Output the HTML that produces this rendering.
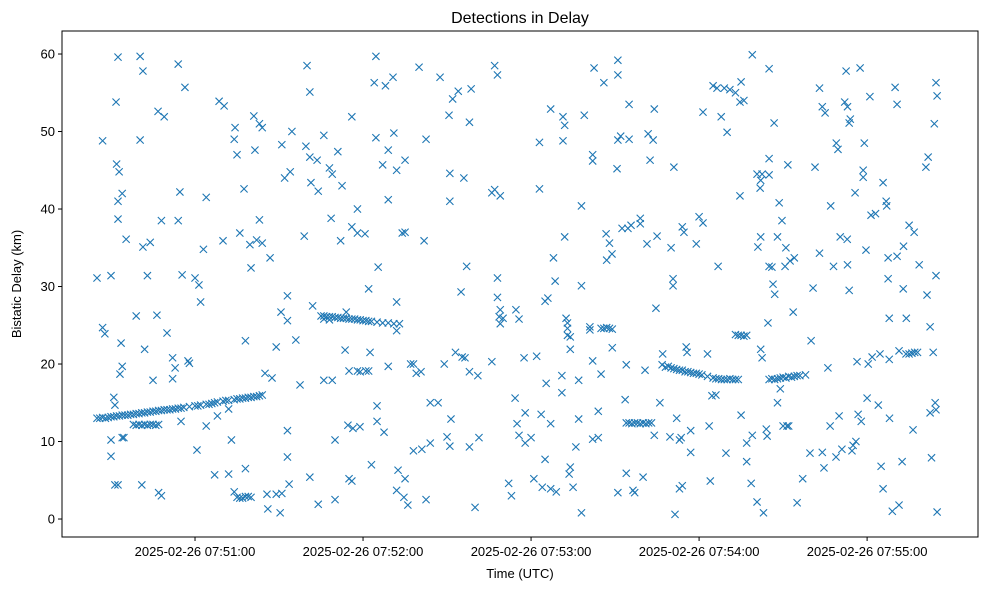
<!DOCTYPE html>
<html>
<head>
<meta charset="utf-8">
<style>
  html,body{margin:0;padding:0;background:#fff;}
  svg{display:block;font-family:"Liberation Sans","DejaVu Sans",sans-serif;}
</style>
</head>
<body>
<svg id="chart" width="989" height="590" viewBox="0 0 989 590" xmlns="http://www.w3.org/2000/svg">
  <rect x="0" y="0" width="989" height="590" fill="#fff"/>
  <text x="520" y="23" text-anchor="middle" font-size="16" fill="#000">Detections in Delay</text>
  <g id="marks"></g>
  <g id="yaxis"></g>
  <g id="xaxis"></g>
  <rect x="62" y="31" width="916" height="506" fill="none" stroke="#000" stroke-width="1"/>
  <text x="520" y="578" text-anchor="middle" font-size="13" fill="#000">Time (UTC)</text>
  <text x="21" y="284" text-anchor="middle" font-size="13" fill="#000" transform="rotate(-90 21 284)">Bistatic Delay (km)</text>
</svg>
<script>
// seconds after 2025-02-26 07:50:00 UTC, bistatic delay in km
const xTickSeconds = [60, 120, 180, 240, 300];
const xTickLabels = ["2025-02-26 07:51:00","2025-02-26 07:52:00","2025-02-26 07:53:00","2025-02-26 07:54:00","2025-02-26 07:55:00"];
const yTickValues = [0, 10, 20, 30, 40, 50, 60];
const xDomain = [12.5, 339.6];
const yDomain = [-2.32, 62.97];

const trackA = [[25,13.0],[26,13.0],[27,13.1],[28,13.0],[29,13.1],[30,13.2],[31,13.2],[32,13.3],[33,13.3],[34,13.4],[35,13.4],[36,13.4],[37,13.5],[38,13.5],[39,13.6],[40,13.6],[41,13.7],[42,13.7],[43,13.8],[44,13.8],[45,13.9],[46,13.9],[47,14.0],[48,14.0],[49,14.1],[50,14.1],[51,14.1],[52,14.2],[53,14.2],[54,14.3],[55,14.3],[56,14.4],[58,14.5],[60,14.6],[61,14.6],[62,14.7],[64,14.8],[65,14.8],[66,14.9],[67,15.0],[68,15.1],[70,15.2],[71,15.3],[72,15.3],[74,15.4],[75,15.5],[76,15.5],[77,15.6],[78,15.6],[79,15.7],[80,15.7],[81,15.8],[82,15.8],[83,15.9],[84,16.0]];
const trackLow = [[38,12.2],[39,12.1],[40,12.2],[41,12.1],[42,12.2],[43,12.1],[44,12.2],[45,12.2],[46,12.1],[47,12.2],[75,2.8],[76,2.7],[77,2.7],[78,2.9],[79,2.9],[80,2.8],[89,3.2],[91,3.3]];
const trackB = [[105,26.2],[106,26.2],[107,26.1],[108,26.1],[109,26.1],[110,26.0],[111,26.0],[112,25.9],[113,25.9],[114,25.9],[115,25.8],[116,25.8],[117,25.8],[118,25.7],[119,25.7],[120,25.6],[121,25.6],[122,25.5],[123,25.5],[125,25.4],[127,25.3],[129,25.3],[131,25.2],[133,25.2],[106,25.8],[108,25.7]];
const trackC = [[205,24.6],[206,24.6],[207,24.7],[208,24.6],[209,24.5],[214,12.4],[215,12.4],[216,12.3],[217,12.4],[218,12.4],[219,12.3],[220,12.4],[221,12.3],[222,12.4],[223,12.4]];
const trackD = [[228,19.6],[229,19.7],[230,19.5],[231,19.4],[232,19.3],[233,19.2],[234,19.2],[235,19.0],[236,19.0],[237,18.9],[238,18.8],[239,18.8],[240,18.7],[241,18.6],[243,18.4],[245,18.2],[246,18.1],[247,18.1],[248,18.0],[249,18.0],[250,18.0],[251,18.1],[252,18.0],[253,18.0],[254,18.0],[265,18.0],[266,18.1],[267,18.0],[268,18.1],[269,18.2],[270,18.3],[271,18.2],[272,18.4],[273,18.3],[274,18.4],[275,18.5],[276,18.5],[278,18.6]];
const trackE = [[253,23.8],[254,23.7],[255,23.7],[256,23.6],[257,23.7],[315,21.3],[316,21.4],[317,21.5],[318,21.5]];
const scatterEarly = [[25,31.1],[27,48.8],[27,24.7],[27.8,23.9],[30,31.4],[30,10.2],[30,8.1],[31,15.7],[31.4,14.7],[31.4,4.4],[32.5,4.4],[31.8,53.8],[32.5,59.6],[32,45.8],[32.9,44.8],[32.5,41],[32.5,38.7],[33.2,18.7],[34,19.7],[34,10.5],[33.6,22.7],[34,42],[35.4,36.1],[34.6,10.5],[39,26.2],[40.4,59.7],[41.4,57.8],[40.4,48.9],[41.4,35.1],[41,4.4],[42,21.9],[43,31.4],[44,35.7],[45,17.9],[46.4,26.3],[46.8,52.6],[47,3.4],[49,51.9],[48,38.5],[50,24],[48,3],[52,20.8],[52.9,19.5],[52,18.1],[54,58.7],[54.6,42.2],[54,38.5],[55,12.6],[55.4,31.5],[56.4,55.7],[57.5,20.4],[58,20.1],[60,31.1],[60.7,8.9],[61.4,30.2],[62,28],[63,34.8],[64,41.5],[64,12],[67,5.7],[68,13.3],[68.6,53.9],[70,35.9],[70.4,53.3],[72,5.8],[72,14.2],[73,10.2],[74,49],[74.3,50.5],[75,47],[74,3.5],[76,36.9],[77.5,42.6],[78,23],[78,6.5],[79.6,35.4],[80,32.4],[81,52],[81.4,47.6],[82,36],[83,51],[83,38.6],[84,50.5],[84,35.6],[85,18.8],[85.7,3.2],[86,1.3],[86.8,33.7],[87.5,18.2],[89,22.2],[90.7,26.7],[90.4,0.8],[91,48.3],[92,44],[93,28.8],[93,25.6],[93,11.4],[93,8],[93.6,4.5],[94,44.8],[94.6,50],[96,23.1],[97.5,17.3],[99,36.5]];
const scatterMid = [[99.6,48.1],[100,58.5],[101,55.1],[101,46.7],[101.4,43.4],[101,5.4],[102,27.5],[103.6,46.3],[104,42.3],[104,1.9],[106,49.5],[106,17.9],[108,45.3],[108.6,38.8],[109,17.9],[109,44.5],[110,10.2],[110,2.5],[111,47.4],[112,35.9],[112.5,43],[113.6,21.8],[114,26.7],[114.6,12.1],[115,19.1],[115,5.2],[116,51.9],[116,4.9],[116,37.7],[116.4,11.7],[118,19.1],[118,40],[118,36.9],[118.9,11.9],[119,19],[120.7,36.8],[121,19.1],[122,29.7],[122.5,21.5],[122,19.1],[123,7],[124,56.3],[124.6,59.7],[124.6,49.2],[125,14.6],[125,12.6],[125.4,32.5],[127,45.7],[127.5,11.2],[128,55.9],[129,41.2],[129,47.6],[129,19.7],[130.7,57],[131,49.8],[132,24.3],[132,28],[132,45],[132,3.7],[132.5,6.3],[134,36.9],[134.6,2.8],[135,37],[135,5.2],[135,46.3],[136,1.8],[137,20],[138,20],[138,8.8],[139,18.8],[140,58.3],[140.7,19],[141,9],[141.8,35.9],[142.5,49],[142.5,2.5],[144,15],[144,9.8],[146.8,15],[147.5,57],[149,20],[150.7,52.1],[151,44.6],[150,10.6],[151,41],[151.4,12.9],[151,9.4],[152,54.2],[153,21.5],[154,55.2],[155,29.3],[155.4,20.9],[156,44],[157,32.6],[156.4,20.8],[158,51.2],[158,19],[158,9.3],[158.6,55.5],[161,18.5],[161.4,10.5],[160,1.5],[167,58.5],[168,57.3],[166,20.3],[166,42.1],[167,42.5],[168,28.6],[168,31.1],[169,27],[168.6,26.1],[169,25.2],[170,25.9],[169,41.7]];
const scatterLate = [[172,4.6],[173,3],[174.6,27],[175.7,25.8],[174.3,15.6],[175,12.3],[175.7,10.8],[177.9,9.8],[177.9,13.7],[177.5,20.8],[180,10.5],[181,5.2],[182,21],[183,48.6],[183,42.6],[183.6,13.5],[184,4.1],[185,7.7],[185.4,17.5],[185,28.1],[186,28.5],[187,52.9],[187,3.9],[187,12.3],[188,33.7],[188.6,30.7],[189,3.5],[191,18.5],[191,16.3],[191.4,51.9],[191.4,48.8],[192,50.8],[192,36.4],[192.5,25.9],[193,25.3],[193,23.7],[194,23.5],[193,24.6],[194,21.9],[193.6,5.8],[194,6.7],[195,4.1],[196,9.3],[197,12.9],[197,17.9],[198,30.1],[198,0.8],[198,40.4],[199,52.1],[202,20.4],[201,24.4],[201,24.8],[202,10.3],[202,47],[202,46.2],[202.5,58.2],[204,13.9],[204,10.5],[205,18.7],[206,56.3],[206.8,36.8],[207,33.4],[208,35.6],[208.9,34.2],[209,22.1],[211,59.2],[211,57.3],[210.7,45.2],[211,48.9],[211,3.4],[212,49.4],[212.5,37.5],[213.6,15.4],[214,19.9],[214,5.9],[214.6,37.5],[215,53.5],[215,49],[215.7,37.9],[216.4,3.7],[217,3.4],[219,38.8],[219,38.1],[220,5.4],[220.7,19.2],[221.4,35.5],[221.8,49.7],[222.5,46.3],[223.6,48.9],[224,52.9],[224,10.8],[224.6,27.2],[225,36.5],[226,15],[227,21.3],[226.8,19.9],[229.6,10.6],[230,35],[230.7,31],[231,45.4],[230.7,30.1],[231.4,0.6],[232,13],[233,3.9],[233,10.2],[233.6,10.5],[234,4.3],[234.6,37],[234,37.7],[235.4,22.2],[235.7,21.5],[237,8.6],[237,11.4],[239,35.5],[240,39],[241.4,52.5],[241.4,38.2],[243,21.3],[243.6,12],[244,4.9],[244.6,15.9],[245,55.9],[246,16],[246.4,55.6],[246.8,32.6],[247.9,51.9],[249,55.6],[249.6,8.5],[250,49.9],[251,55.4],[253,55],[254.6,53.8],[254.6,41.7],[255,56.4],[255,13.4],[256,54],[257,7.4],[257,9.8],[258.6,4.6],[259,10.8],[259,59.9],[260.7,2.2],[260.7,44.5],[261,35.1],[261.8,42.7],[262,43.7],[262.5,44.5],[262,36.4],[262,21.9],[262.5,20.8],[263,0.8],[264,11.6],[264.3,10.7],[264.6,25.3],[265,58.1],[265,46.5],[265,44.4],[265,32.6],[266,32.5],[266.4,30.3],[266.8,51.1],[267,29],[268,15],[268,36.4],[268.6,40.8],[269,16.8],[269.6,38.5],[270,12],[270.7,32.6],[271,35],[271.4,12],[272,12],[271.7,45.7],[272.5,33.3],[273.6,26.7],[274,33.7],[275,2.1],[277,5.2],[279.6,8.5],[280,23],[280.7,29.8],[281.4,45.4],[283,55.6],[283,34.3],[284,53.2],[284,8.6],[284.6,6.6],[285,52.4],[286,19.5],[286.8,12],[287,40.4],[288,32.6],[288.9,8],[289,48.5],[289.6,47.7],[290,13.3],[290.4,36.4],[291,9],[292,53.8],[292.5,57.8],[292.9,36.1],[293,32.8],[293.6,29.5],[293,53.2],[294,51.6],[293.6,51.1],[294.6,8.8],[295,9.5],[295.7,42.1],[296,10],[296.4,20.3],[296.8,13.5],[297.5,58.2],[297.9,12.6],[298.6,45],[298.6,44.1],[299,48.5],[299.6,34.7],[300,15.6],[300.4,20],[301,54.5],[301.4,39.2],[301.8,20.9],[303,39.4],[304,14.7],[304.6,21.3],[305,6.8],[305.7,43.4],[305.7,3.9],[306.8,41],[307,40.4],[307.5,33.7],[307.5,31],[307.9,25.9],[307.9,20.6],[308,13],[309,1],[310,55.7],[310.7,53.5],[310.7,33.9],[311.4,21.7],[311.4,1.8],[312.5,7.4],[312.9,29.7],[313,35.2],[313.9,21.3],[314,25.9],[315,37.9],[316.4,11.5],[316.8,37],[318.6,32.8],[321,45.4],[321.4,28.9],[321.8,46.7],[322.5,13.7],[322.5,24.8],[323,7.9],[323.6,21.5],[324,51],[324.3,15],[324.6,14.1],[324.6,31.4],[324.6,56.3],[325,54.6],[325,0.9]];

const PL = 62, PR = 978, PT = 31, PB = 537;
function xScale(t){ return PL + (t - xDomain[0]) / (xDomain[1] - xDomain[0]) * (PR - PL); }
function yScale(v){ return PB - (v - yDomain[0]) / (yDomain[1] - yDomain[0]) * (PB - PT); }

const NS = "http://www.w3.org/2000/svg";
const marks = document.getElementById("marks");
const allSets = [trackA, trackLow, trackB, trackC, trackD, trackE, scatterEarly, scatterMid, scatterLate];
const s = 3.6;
allSets.forEach(function(set){
  set.forEach(function(p){
    const cx = xScale(p[0]), cy = yScale(p[1]);
    const path = document.createElementNS(NS, "path");
    path.setAttribute("d", "M"+(cx-s)+" "+(cy-s)+"L"+(cx+s)+" "+(cy+s)+"M"+(cx-s)+" "+(cy+s)+"L"+(cx+s)+" "+(cy-s));
    path.setAttribute("stroke", "#1f77b4");
    path.setAttribute("stroke-width", "1.1");
    path.setAttribute("fill", "none");
    
    
    marks.appendChild(path);
  });
});

const yaxis = document.getElementById("yaxis");
yTickValues.forEach(function(v){
  const y = yScale(v);
  const tick = document.createElementNS(NS, "line");
  tick.setAttribute("x1", PL - 4); tick.setAttribute("x2", PL);
  tick.setAttribute("y1", y); tick.setAttribute("y2", y);
  tick.setAttribute("stroke", "#000");
  
  
  yaxis.appendChild(tick);
  const lab = document.createElementNS(NS, "text");
  lab.setAttribute("x", PL - 7); lab.setAttribute("y", y + 4.5);
  lab.setAttribute("text-anchor", "end");
  lab.setAttribute("font-size", "13");
  lab.textContent = String(v);
  
  
  yaxis.appendChild(lab);
});

const xaxis = document.getElementById("xaxis");
xTickSeconds.forEach(function(t, i){
  const x = xScale(t);
  const tick = document.createElementNS(NS, "line");
  tick.setAttribute("x1", x); tick.setAttribute("x2", x);
  tick.setAttribute("y1", PB); tick.setAttribute("y2", PB + 4);
  tick.setAttribute("stroke", "#000");
  
  
  xaxis.appendChild(tick);
  const lab = document.createElementNS(NS, "text");
  lab.setAttribute("x", x); lab.setAttribute("y", PB + 19);
  lab.setAttribute("text-anchor", "middle");
  lab.setAttribute("font-size", "13");
  lab.textContent = xTickLabels[i];
  
  
  xaxis.appendChild(lab);
});
</script>
</body>
</html>
